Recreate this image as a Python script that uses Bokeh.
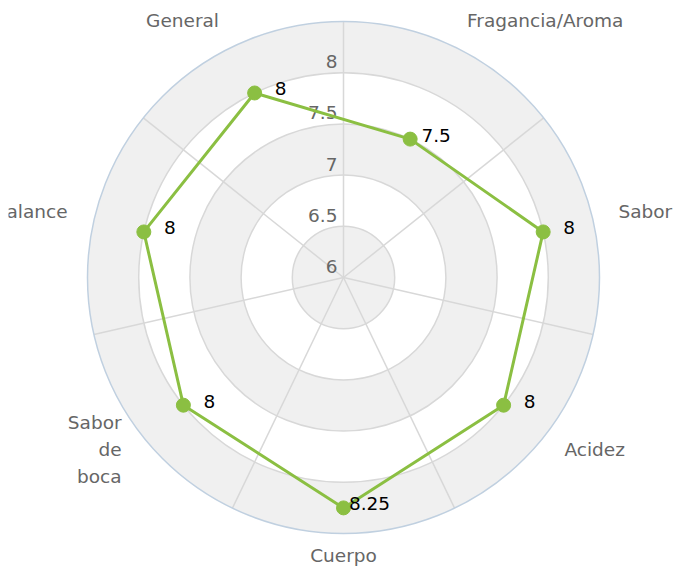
import numpy as np
from bokeh.plotting import figure
from bokeh.models import Range1d, ColumnDataSource
from bokeh.embed import file_html
from bokeh.resources import INLINE
from bokeh.core.properties import value

# ---- data ----
categories = ["Fragancia/Aroma", "Sabor", "Acidez", "Cuerpo", "Sabor\nde\nboca", "Balance", "General"]
scores = [7.5, 8, 8, 8.25, 8, 8, 8]
score_labels = ["7.5", "8", "8", "8.25", "8", "8", "8"]
tick_values = [6, 6.5, 7, 7.5, 8]
tick_labels = ["6", "6.5", "7", "7.5", "8"]
axis_min, axis_max = 6.0, 8.5
shaded_bands = [(6.0, 6.5), (7.0, 7.5), (8.0, 8.5)]

# ---- layout ----
W, H = 674, 569
PAD = 8                    # frame starts 8px in (matches reference clipping)
CX, CY = 343, 277          # chart centre in picture pixels
R = 256                    # radius of outer circle in px
FONT = "DejaVu Sans"
FS = "18.5px"
GREEN = "#8bbf42"

def rad(v):
    return (np.asarray(v, dtype=float) - axis_min) / (axis_max - axis_min) * R

n = len(categories)
theta = (np.arange(n) + 0.5) * 2 * np.pi / n      # clockwise from top
spoke_theta = np.arange(n) * 2 * np.pi / n

p = figure(width=W, height=H, output_backend="svg", toolbar_location=None,
           x_range=Range1d(PAD - CX, W - CX), y_range=Range1d(CY - H, CY - PAD),
           min_border=0, min_border_left=PAD, min_border_top=PAD)
p.axis.visible = False
p.grid.visible = False
p.outline_line_color = None
p.background_fill_color = "white"
p.border_fill_color = "white"

# shaded plot bands
for lo, hi in shaded_bands:
    if lo == axis_min:
        p.circle(x=[0], y=[0], radius=float(rad(hi)), radius_units="data",
                 fill_color="#f0f0f0", line_color=None)
    else:
        p.annulus(x=[0], y=[0], inner_radius=float(rad(lo)), outer_radius=float(rad(hi)),
                  fill_color="#f0f0f0", line_color=None)

# grid circles
for t in tick_values[1:]:
    p.circle(x=[0], y=[0], radius=float(rad(t)), radius_units="data",
             fill_color=None, line_color="#d8d8d8", line_width=1.5)

# spokes
for a in spoke_theta:
    p.line(x=[0, R * np.sin(a)], y=[0, R * np.cos(a)], line_color="#d8d8d8", line_width=1.5)

# outer circle
p.circle(x=[0], y=[0], radius=R, radius_units="data", fill_color=None,
         line_color="#c0d0e0", line_width=1.5)

# tick labels
p.text(x=[-6] * len(tick_values), y=list(rad(tick_values)), text=tick_labels, y_offset=-11,
       text_align="right", text_baseline="alphabetic", text_color="#666666",
       text_font=value(FONT), text_font_size=FS)

# series
r_s = rad(scores)
xs = r_s * np.sin(theta)
ys = r_s * np.cos(theta)
p.line(x=list(xs) + [xs[0]], y=list(ys) + [ys[0]], line_color=GREEN, line_width=3)
p.scatter(x=xs, y=ys, size=14, fill_color=GREEN, line_color=GREEN)
p.text(x=xs, y=ys, text=score_labels, x_offset=26, y_offset=-4,
       text_align="center", text_baseline="alphabetic", text_color="#000000",
       text_font=value(FONT), text_font_size=FS)

# category labels
r_lab = R + 24
lx, ly, align, yoff = [], [], [], []
for a in theta:
    s, c = np.sin(a), np.cos(a)
    x = r_lab * s
    if s > 0.1:
        align.append("left"); x += 2
    elif s < -0.1:
        align.append("right"); x -= 3
    else:
        align.append("center")
    lx.append(x)
    ly.append(r_lab * c)
    yoff.append(4 - 1.7 * c - 7.5)
src = ColumnDataSource(dict(x=lx, y=ly, text=categories, align=align, yoff=yoff))
p.text(x="x", y="y", text="text", text_align="align", y_offset="yoff", source=src,
       text_baseline="middle", text_color="#666666", text_font=value(FONT),
       text_font_size=FS, text_line_height=1.3)

open("out.html", "w").write(file_html(p, INLINE))
